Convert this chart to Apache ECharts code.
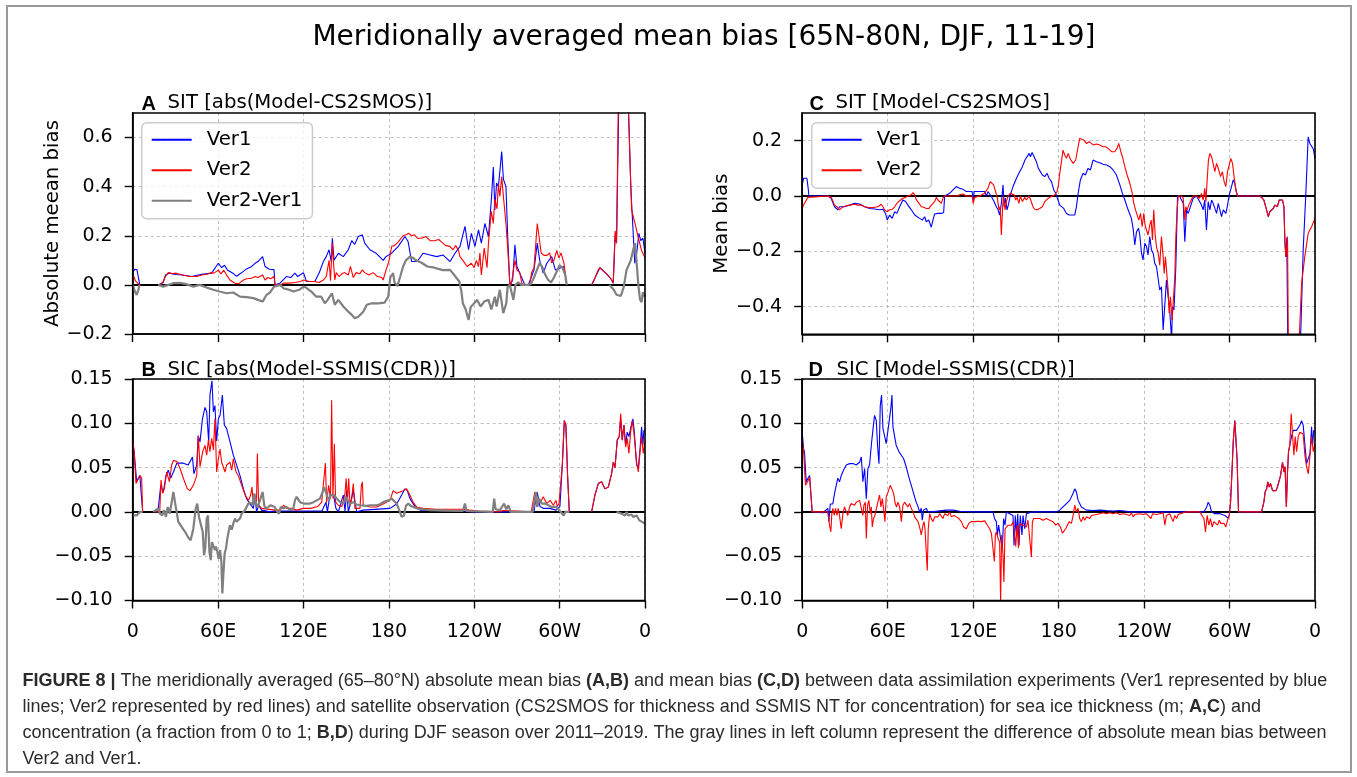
<!DOCTYPE html>
<html>
<head>
<meta charset="utf-8">
<title>Meridionally averaged mean bias</title>
<script src="https://cdn.jsdelivr.net/npm/echarts@6.0.0/dist/echarts.min.js"></script>
<style>
  html, body { margin: 0; padding: 0; background: #fff; }
  #chart { width: 1357px; height: 777px; }
</style>
</head>
<body>
<div id="chart"></div>
<script>
// axis ticks
const X_TICKS = [0, 60, 120, 180, 240, 300, 360];
const X_TICK_LABELS = ['0', '60E', '120E', '180', '120W', '60W', '0'];
const Y_TICKS_A = [-0.2, 0, 0.2, 0.4, 0.6];
const Y_TICKS_B = [-0.1, -0.05, 0, 0.05, 0.1, 0.15];
const Y_TICKS_C = [-0.4, -0.2, 0, 0.2];
const Y_TICKS_D = [-0.1, -0.05, 0, 0.05, 0.1, 0.15];

// [longitude (0-360, east), value]; null = no data
// A: SIT abs(Model-CS2SMOS)
const A_VER1 = [[0,0.05],[1.5,0.064],[3,0.062],[4,0.03],[5,0],[6,null],
  [18,0],[21.5,0.01],[23,0.04],[26,0.048],[30,0.042],[35,0.04],[41.5,0.034],[48.5,0.043],[55.5,0.048],[58,0.07],[60.2,0.088],[62.5,0.07],[64.5,0.08],[66.5,0.061],[71,0.045],[73,0.035],[77.8,0.055],[80,0.065],[83.6,0.075],[86,0.088],[88,0.095],[91.3,0.115],[93,0.075],[96,0.064],[99.3,0.062],[100,0],
  [103.5,0.007],[108,0.034],[111,0.03],[114,0.048],[116,0.034],[120,0.05],[122,0.014],[128,0.014],[131,0.048],[134,0.095],[136,0.115],[138,0.143],[139.5,0.095],[140.3,0.19],[141.5,0.1],[144.5,0.129],[148,0.115],[151.5,0.143],[153.9,0.18],[156,0.165],[158.5,0.197],[161.4,0.204],[163,0.17],[166.7,0.143],[171,0.129],[176,0.1],[178,0.115],[182,0.129],[186.6,0.157],[191.3,0.197],[193.5,0.177],[196,0.095],[200,0.095],[204,0.129],[209,0.122],[213.6,0.115],[218,0.122],[223,0.095],[226.5,0.129],[230,0.157],[233.5,0.238],[236,0.143],[238,0.21],[240.5,0.157],[243,0.224],[245,0.17],[247.5,0.25],[250,0.197],[252.2,0.36],[253.4,0.48],[254.5,0.305],[255.7,0.415],[257,0.4],[259.3,0.543],[260.5,0.43],[262.3,0.4],[263.5,0.2],[265,0],[267,0.02],[268.6,0.163],[270,0.075],[273,0.034],[275.6,0],[278,0],[280.3,0.034],[282,0.061],[284.3,0.17],[286,0.1],[288.5,0.048],[291,0.088],[294.4,0.115],[297,0.061],[300,0.068],[303,0.075],[305,0],[306,null],
  [322.5,0],[325,0.03],[328.3,0.07],[333,0.045],[336,0.025],[337.7,0.007],[339,0.2],[340,0.17],[342,0.9],[347.5,0.9],[350,0.4],[352.8,0.088],[354,0.12],[355.7,0.21],[357,0.18],[358.5,0.19],[360,0.13]];
const A_VER2 = [[0,0.04],[1,0.03],[2,0.015],[4,0.005],[5,0],[6,null],
  [18,0],[20,0.005],[21.5,0.014],[23,0.034],[25,0.05],[28,0.045],[30,0.048],[35,0.04],[40,0.034],[45,0.034],[48.5,0.04],[52,0.043],[55.5,0.05],[57,0.048],[60.2,0.06],[62,0.045],[64,0.06],[66,0.04],[68.4,0.02],[71,0.01],[73,0.005],[75,0.007],[77.8,0.02],[80,0.025],[83.6,0.027],[86,0.034],[88,0.03],[91.3,0.04],[93,0.02],[95,0.03],[97,0.025],[99.3,0.034],[100,0],
  [103.5,0],[106,0.007],[110,0.007],[114,0.01],[118,0.014],[120,0.02],[124,0.014],[128,0.014],[131,0.01],[134,0.02],[136,0.034],[138,0.1],[139,0.017],[140.3,0.17],[141,0.1],[142,0.02],[143,0.05],[145,0.034],[147,0.045],[149,0.05],[151.5,0.04],[153,0.075],[155,0.03],[157,0.05],[159.5,0.045],[161.4,0.061],[163,0.05],[166,0.04],[169,0.05],[172,0.034],[175,0.03],[176,0.02],[178,0.06],[180,0.095],[182,0.157],[184,0.16],[186.6,0.175],[188,0.18],[190,0.2],[192,0.204],[194,0.21],[196,0.2],[198,0.204],[200,0.19],[203,0.19],[206,0.197],[209,0.18],[212,0.18],[215,0.185],[218,0.17],[220,0.16],[223,0.157],[225,0.143],[227,0.16],[229,0.14],[230,0.115],[232,0.1],[235,0.075],[238,0.088],[240,0.07],[241.5,0.1],[243,0.075],[244,0.13],[245,0.04],[247,0.15],[249,0.07],[250,0.17],[252,0.3],[253.4,0.25],[254.5,0.35],[256,0.31],[257,0.41],[258,0.36],[259.3,0.44],[260.5,0.36],[262.3,0.25],[263.5,0.15],[265,0.01],[266,0],[268.6,0.1],[270,0.06],[272,0.05],[273.5,0.005],[276,0],[279,0],[280.3,0.05],[282,0.07],[284.3,0.25],[285.5,0.2],[287,0.13],[289,0.12],[291,0.12],[293,0.13],[294.4,0.09],[296,0.1],[298,0.14],[299.5,0.11],[301,0.13],[303,0.09],[305,0],[306,null],
  [322.5,0],[325,0.03],[327,0.06],[328.3,0.07],[330,0.06],[333,0.045],[336,0.025],[337.7,0.01],[339,0.22],[340,0.17],[341.7,0.95],[347,0.95],[350.6,0.305],[353,0.25],[355,0.2],[357.6,0.14],[360,0.11]];
const A_DIFF = [[0,0],[1.6,-0.027],[2.8,-0.041],[4,-0.02],[4.7,0],[6,null],
  [18,0],[21.5,-0.007],[24,-0.002],[28.6,0.007],[33,0.008],[37,0.004],[42.6,-0.007],[47,0],[52,-0.011],[56.7,-0.02],[61,-0.027],[66,-0.034],[70.7,-0.031],[75.4,-0.048],[80,-0.05],[84.8,-0.054],[88,-0.061],[91.3,-0.068],[94,-0.041],[96.5,-0.031],[99.3,-0.007],[100,0],
  [103.5,0],[106,-0.014],[110,-0.02],[113,-0.027],[117,-0.02],[120,-0.007],[122,-0.012],[125.5,-0.027],[129,-0.048],[132.5,-0.048],[135,-0.075],[137,-0.061],[140,-0.034],[142,-0.081],[144.5,-0.061],[148,-0.088],[151.5,-0.109],[154,-0.122],[156,-0.136],[158.5,-0.13],[162,-0.109],[164.5,-0.081],[168,-0.075],[172.6,-0.075],[177,-0.072],[179.6,-0.048],[181,0.03],[183,0.048],[184,0.01],[186,-0.005],[188,0.034],[190,0.075],[192,0.1],[194.8,0.115],[197,0.11],[199,0.1],[203,0.09],[207,0.075],[212,0.07],[218,0.06],[223,0.061],[226,0.04],[229.5,0.014],[231,-0.027],[232,-0.075],[234,-0.1],[236,-0.143],[237.5,-0.09],[240,-0.075],[242,-0.061],[244.5,-0.088],[247,-0.068],[250,-0.061],[252,-0.1],[254.5,-0.048],[255.7,-0.088],[258,-0.02],[260.4,-0.115],[262.5,-0.075],[263.5,-0.007],[265,0],[266,0],[267.5,-0.061],[269,0],[271,0.01],[273,0],[278,0],[280,0.005],[282,0.03],[284,0.06],[286,0.09],[288,0.07],[290,0.04],[292,0.02],[294,0.01],[296,0.03],[298,0.055],[300,0.08],[302,0.07],[304,0.04],[305,0],[306,null],
  [335,0],[338,-0.02],[340,-0.04],[343,-0.045],[345,-0.01],[347,0.06],[350,0.1],[352,0.15],[353,0.17],[354,0.1],[355.3,0],[356.5,-0.06],[357.6,-0.07],[358.5,-0.03],[360,-0.05]];

// B: SIC abs(Model-SSMIS(CDR))
const B_VER1 = [[0,0.08],[1,0.068],[2.8,0.034],[5,0.041],[6.3,0.043],[7,0],[8,null],
  [16,0],[18,0.004],[19.7,0.03],[21.5,0.022],[23.4,0.041],[25,0.047],[26.7,0.038],[28.6,0.045],[31,0.055],[35.6,0.055],[39,0.053],[42,0.062],[43,0.043],[45,0.053],[46,0.086],[47.3,0.079],[49,0.105],[50.8,0.118],[52,0.113],[53.4,0.079],[54.3,0.132],[55.7,0.148],[56.7,0.113],[57.8,0.12],[59,0.08],[60.2,0.105],[61.4,0.109],[63,0.132],[64.4,0.098],[66,0.094],[68.4,0.079],[70.7,0.064],[73,0.053],[75.4,0.041],[77.8,0.026],[80,0.015],[82.4,0.009],[84.8,0.004],[86,0.019],[87,0],[88.5,0.0075],[90.6,0.002],[96.5,0],[100,0.001],[120,0.001],[133,0.001],[135.8,0.011],[136.8,0],[138.6,0.019],[141,0.02],[142.8,0.004],[144.5,0],[148,0.019],[149.2,0.001],[150.4,0.024],[151.5,0],[152.7,0.0075],[155,0.024],[157.4,0],[162,0.002],[180.8,0.004],[185.5,0.009],[189,0.019],[191.3,0.026],[193,0.024],[194.8,0.015],[198.4,0.006],[202,0.002],[232,0.001],[240,0],[282,0],[282.6,0.0075],[284.3,0.022],[286.2,0.006],[288.5,0.004],[293,0.004],[297.5,0.002],[300.2,0.006],[301.9,0.053],[303.3,0.103],[304.4,0.098],[305.6,0.041],[306.8,0],[308,null],
  [322.5,0],[324.8,0.019],[327.2,0.032],[329.5,0.034],[331.9,0.026],[334.2,0.028],[335.4,0.026],[336.5,0.043],[337.7,0.056],[338.9,0.05],[340.5,0.081],[341.9,0.085],[342.9,0.105],[344,0.081],[345.2,0.098],[346.4,0.075],[347.5,0.09],[348.7,0.085],[350,0.095],[351.5,0.105],[352.5,0.09],[354.1,0.053],[355.3,0.05],[356.5,0.07],[357.6,0.096],[358.5,0.075],[359.2,0.092],[360,0.09]];
const B_VER2 = [[0,0.081],[1,0.068],[2.3,0.032],[4,0.038],[5.2,0.041],[6.3,0.038],[7,0],[8,null],
  [16,0],[19,0],[19.9,0.036],[21,0.021],[22.2,0.026],[23.9,0.045],[25.8,0.034],[27.4,0.053],[28.6,0.058],[31,0.057],[33.3,0.049],[35.6,0.038],[38.4,0.026],[40.3,0.024],[42.6,0.03],[45,0.041],[46.1,0.086],[47.3,0.051],[49.2,0.068],[50.8,0.075],[52,0.064],[53.2,0.081],[54.3,0.068],[55.5,0.083],[56.7,0.07],[57.8,0.105],[59,0.045],[60.2,0.06],[61.4,0.071],[62.5,0.056],[64.9,0.045],[66,0.053],[68.4,0.056],[69.6,0.047],[70.7,0.06],[72.6,0.045],[74.2,0.041],[76.6,0.03],[79,0.019],[81.3,0.013],[82.9,0.019],[83.8,0.028],[84.8,0.009],[86,0.015],[87,0.011],[87.6,0.066],[88.5,0.0075],[90.6,0.004],[100,0.002],[103.5,0.002],[104.7,0.004],[106,0.0075],[108.2,0.004],[111.7,0.004],[115,0.002],[120,0.004],[125,0.004],[130,0.006],[132.8,0.011],[134.4,0.038],[135.4,0.055],[136.3,0.011],[137.7,0.03],[139,0.015],[139.8,0.126],[140.7,0.015],[141.7,0.077],[142.6,0.011],[144.5,0.0075],[147,0.006],[149.2,0.021],[150,0.038],[150.9,0.011],[151.8,0.038],[152.7,0.0075],[153.9,0.015],[155,0.032],[156.2,0.004],[159.7,0.004],[160.7,0.03],[161.4,0.034],[162,0.0075],[166.7,0.0056],[171.4,0.0056],[176,0.009],[180.8,0.013],[183,0.024],[185.5,0.021],[187.8,0.0225],[190,0.024],[192.5,0.026],[194.8,0.019],[197,0.011],[199.5,0.0056],[204,0.004],[213.6,0.003],[232,0.003],[236.7,0.002],[243,0.001],[257,0],[260,0.0015],[270,0.001],[280,0],[282.6,0.0225],[283.8,0.006],[285,0.015],[286.6,0.011],[288.5,0.017],[290.9,0.0094],[293.3,0.013],[295.6,0.0075],[297.4,0.013],[298.4,0.006],[299.5,0.009],[300.7,0.011],[301.9,0.053],[303.3,0.103],[304.4,0.098],[305.6,0.041],[306.8,0],[308,null],
  [322.5,0],[324.8,0.019],[327.2,0.032],[329.5,0.034],[331.9,0.026],[334.2,0.028],[335.4,0.026],[336.5,0.043],[337.7,0.056],[338.9,0.05],[340.5,0.081],[341.9,0.085],[342.9,0.111],[344,0.081],[345.2,0.098],[346.4,0.073],[347.5,0.083],[348.7,0.066],[349.9,0.09],[351,0.103],[352.3,0.088],[354.1,0.056],[355.3,0.045],[356.5,0.068],[357.6,0.085],[358.8,0.066],[360,0.079]];
const B_DIFF = [[0,-0.004],[2.8,-0.004],[5,0],[7,0],[8,null],
  [14.5,0],[18,0.004],[19.2,-0.002],[20.8,-0.004],[22,0.002],[23.4,-0.0056],[24.6,0.0056],[26,-0.002],[27.4,0.011],[28.6,0.0226],[29.7,0.011],[30.9,0],[32,-0.011],[34.4,-0.017],[36.8,-0.0225],[39,-0.029],[40.7,-0.032],[42.6,-0.019],[44.3,0.004],[45.4,0.0094],[46.6,-0.006],[47.8,-0.004],[49.2,-0.0225],[50.1,-0.049],[51,-0.041],[52,-0.0075],[52.9,-0.004],[53.9,-0.045],[54.8,-0.0545],[55.7,-0.034],[56.7,-0.036],[57.8,-0.043],[58.5,-0.039],[59.5,-0.045],[60.4,-0.053],[61.4,-0.043],[62.3,-0.056],[63,-0.092],[63.7,-0.071],[64.6,-0.047],[65.6,-0.041],[66.5,-0.03],[67.4,-0.0225],[68.4,-0.015],[69.6,-0.02],[70.7,-0.013],[71.9,-0.0075],[73,-0.011],[74.2,-0.009],[75.4,-0.0075],[76.6,-0.002],[77.8,-0.004],[79,0.002],[80,0.0056],[81.3,0.0094],[82.9,0.0105],[84.3,0.0075],[85.5,0.021],[86.6,0.0094],[87.8,0.0056],[89,0.011],[90.2,0.017],[91.3,0.0225],[92.5,0.0068],[93.7,0.004],[95.3,0.0056],[97,0.0075],[98.4,0.0094],[99.8,0.0056],[101.2,0.001],[102.8,-0.002],[104,0.0056],[105.9,0.004],[108.2,0.0056],[110.5,0.002],[112.9,0.004],[114,0.013],[115.2,0.017],[117.6,0.011],[120,0.0094],[124.6,0.0094],[127,0.011],[129.3,0.013],[131.6,0.015],[133.5,0.0225],[134.4,0.028],[135.8,0.0225],[136.8,0.017],[137.9,0.013],[139,0.019],[140.3,0.0206],[141.5,0.019],[142.9,0.017],[144.5,0.013],[146.4,0.0105],[148,0.0094],[150,0.017],[151.1,0.013],[152.7,0.0094],[155,0.011],[157.4,0.0083],[159.7,0.0075],[164.4,0.0068],[166.7,0.0075],[171.4,0.0075],[173.7,0.0086],[176,0.011],[177.3,0.0094],[179.6,0.013],[180.8,0.011],[182,0.015],[183.1,0.013],[185.5,0.0094],[187.3,0.002],[189,-0.0056],[190.6,-0.004],[192,0.0068],[193.7,0.0094],[195.3,0.0068],[197.2,0.0056],[199.5,0.004],[204,0.003],[208.9,0.002],[220,0.0015],[232,0.001],[233.5,0.0094],[234.5,0.001],[253,0],[254,0.015],[255,0.003],[258,0.002],[261,0.0094],[262.5,0.003],[264,0.0075],[265.5,0],[281,0],[282.6,0.015],[283.4,0.0225],[284.3,0.0056],[285.7,0.015],[287.4,0.0094],[289.7,0.0094],[292.1,0.0075],[294.4,0.0056],[297.9,0.0056],[300.2,0.001],[302.9,-0.004],[304,0],[306.8,0],[308,null],
  [340,0],[343.6,-0.002],[346,-0.004],[347.1,0],[348.2,-0.004],[350.6,-0.003],[351.7,-0.0056],[352.9,-0.0075],[354.1,-0.004],[356,-0.0094],[357.6,-0.011],[358.8,-0.013],[360,-0.013]];

// C: SIT Model-CS2SMOS
const C_VER1 = [[0,0.04],[1,0.064],[2.4,0.07],[3.3,0.064],[4.2,0.028],[4.7,0],
  [18,0],[20.3,-0.008],[21.5,-0.0145],[22.7,-0.039],[23.9,-0.033],[25,-0.05],[26.2,-0.039],[27.4,-0.045],[29.7,-0.039],[33.3,-0.033],[36.8,-0.0265],[40.3,-0.029],[43.8,-0.039],[47.3,-0.045],[50.8,-0.047],[54.3,-0.05],[56.7,-0.048],[58.5,-0.063],[59.7,-0.087],[61.4,-0.069],[63.2,-0.081],[64.9,-0.057],[66.5,-0.063],[68.4,-0.039],[70.7,-0.0145],[72.6,-0.02],[74.2,-0.033],[76.6,-0.05],[79,-0.069],[82.4,-0.081],[84.3,-0.087],[86,-0.075],[87.1,-0.093],[88.8,-0.087],[90.6,-0.113],[91.8,-0.087],[93,-0.065],[95.3,-0.063],[97.7,-0.063],[99.3,-0.06],[100,0],[103.5,0.0096],[105.9,0.022],[108.2,0.034],[110.5,0.028],[112.9,0.024],[115.2,0.016],[117.6,0.016],[119.3,0.016],[120,-0.0145],[120.7,0.016],[124.6,0.016],[128,0.016],[129.3,0],[130.4,0.016],[132.8,-0.002],[134.7,-0.02],[136.3,-0.039],[137.5,-0.05],[138.6,-0.069],[139.8,-0.027],[141,0.04],[141.7,-0.039],[142.6,-0.008],[143.8,-0.05],[145,-0.027],[146.1,0.004],[148,0.034],[149.9,0.058],[151.5,0.076],[152.7,0.088],[154.6,0.106],[156.4,0.13],[157.8,0.136],[159.3,0.154],[160.2,0.142],[161.4,0.157],[162.8,0.142],[164.4,0.124],[165.8,0.1],[167.2,0.088],[168.6,0.076],[170.3,0.07],[171.9,0.082],[173.3,0.064],[175,0.052],[176.6,0.022],[178,0.0096],[179.6,-0.0145],[180.8,-0.033],[182,-0.039],[183.6,-0.045],[185.5,-0.063],[187.4,-0.069],[189,-0.069],[191.3,-0.069],[192.5,-0.039],[193.7,0.0096],[195.3,0.058],[197.2,0.082],[198.8,0.076],[200.7,0.1],[202.3,0.094],[204.2,0.13],[206.6,0.124],[208.9,0.12],[211.2,0.115],[213.6,0.112],[216,0.106],[218.3,0.094],[220.6,0.076],[223,0.04],[224.8,0.0096],[226.5,-0.0145],[228.8,-0.05],[231.1,-0.081],[232.3,-0.117],[233.5,-0.177],[234.7,-0.129],[236.1,-0.117],[237,-0.141],[238.2,-0.207],[239.3,-0.231],[240.5,-0.171],[241.7,-0.183],[242.8,-0.213],[244,-0.147],[245.2,-0.195],[246.4,-0.207],[247.5,-0.243],[248.7,-0.255],[249.9,-0.255],[251,-0.34],[252.2,-0.328],[253.4,-0.484],[254.5,-0.4],[255.7,-0.304],[256.9,-0.364],[258,-0.412],[259.3,-0.52],[260,-0.4],[261,-0.412],[262.3,-0.255],[263.5,0],[265,-0.002],[267.5,-0.0265],[268.6,-0.165],[269.8,-0.05],[271,-0.063],[273.3,-0.0265],[274.5,-0.008],[276.8,0],[279,-0.02],[280.3,-0.033],[281.5,-0.05],[282.6,-0.0145],[283.8,-0.123],[285,-0.0205],[286.2,-0.05],[287.4,-0.0145],[288.5,-0.0265],[289.7,-0.045],[290.9,-0.063],[292.1,-0.0265],[293.2,-0.033],[294.4,-0.075],[295.6,-0.05],[297.4,-0.063],[298.4,-0.039],[299.8,0.004],[301.4,0.034],[302.6,0.058],[303.7,0.046],[305,0.0096],[305.7,0],
  [321,0],[322.5,-0.005],[324.1,-0.0145],[326,-0.05],[327.2,-0.075],[328.3,-0.057],[329.5,-0.063],[330.7,-0.045],[331.9,-0.033],[333.5,-0.039],[334.9,-0.0145],[336.1,-0.01],[337.2,-0.0145],[338.2,-0.039],[338.9,-0.171],[339.6,-0.22],[340.2,-0.15],[341,-0.6],[349.4,-0.6],[351.7,-0.195],[353.5,0],[355.2,0.214],[356.4,0.19],[357.6,0.196],[358.8,0.17],[360,0.136]];
const C_VER2 = [[0,-0.045],[1,-0.033],[2.3,-0.02],[4,-0.005],[4.7,0],
  [18,0],[19.2,0.007],[20.3,-0.005],[21.5,-0.017],[22.7,-0.033],[24.4,-0.039],[26.2,-0.05],[28.1,-0.041],[30.9,-0.035],[33.3,-0.033],[36.8,-0.03],[39,-0.033],[41.5,-0.033],[43.8,-0.039],[46.1,-0.041],[48.5,-0.042],[50.8,-0.041],[53.2,-0.039],[55.5,-0.03],[56.7,-0.039],[57.8,-0.05],[59.5,-0.057],[61.4,-0.05],[63.2,-0.048],[64.9,-0.039],[66.5,-0.0265],[68.4,-0.017],[70.7,-0.008],[72.6,-0.005],[74.2,0],[76.6,0.004],[77.8,0.012],[79,0.004],[80,-0.012],[82,-0.0265],[83.6,-0.039],[85.3,-0.041],[87.1,-0.045],[89,-0.045],[90.6,-0.033],[91.8,-0.039],[93,-0.02],[94.2,-0.005],[95.3,-0.0145],[96.5,-0.008],[97.7,-0.0265],[98.8,-0.008],[100,0],[108.2,0],[110.5,0.004],[112.9,0.007],[115.2,0],[119.3,0],[120,-0.0265],[121.1,-0.005],[124.6,0],[128,0.0096],[130.4,0.028],[132,0.052],[133.3,0.058],[134.4,0.04],[135.8,0.016],[137,-0.008],[138.2,-0.05],[139,-0.039],[139.8,-0.141],[140.7,-0.039],[141.4,-0.002],[142.4,-0.05],[143.3,-0.0205],[144.5,0],[146.1,0.0096],[147.5,0.016],[148.7,0.004],[149.9,-0.0145],[150.8,-0.005],[152.2,-0.0265],[153.1,0],[154.6,-0.02],[156.2,-0.005],[157.4,-0.0145],[159.3,0],[160.4,-0.0145],[162,-0.039],[163.2,-0.048],[164.9,-0.05],[166.7,-0.045],[168.6,-0.039],[170.3,-0.02],[171.9,-0.012],[173.8,-0.005],[175.6,0],[177.3,0.004],[178.9,0.016],[179.9,0.04],[180.8,0.082],[182,0.124],[183.1,0.166],[184.3,0.148],[185.5,0.136],[186.7,0.154],[188.3,0.133],[190.2,0.118],[192,0.13],[193.7,0.178],[194.8,0.208],[196,0.214],[197.7,0.202],[199.5,0.19],[201.4,0.196],[203,0.19],[204.7,0.184],[206.6,0.188],[208.9,0.184],[211.2,0.178],[213,0.178],[214.8,0.172],[217.1,0.16],[219.4,0.16],[221,0.172],[222.2,0.19],[223.7,0.16],[224.8,0.142],[226.5,0.106],[228.1,0.076],[230,0.046],[231.6,0.012],[232.8,-0.0265],[234,-0.05],[235.2,-0.057],[236.3,-0.087],[237.5,-0.063],[238.7,-0.111],[239.8,-0.063],[240.7,-0.105],[241.7,-0.123],[242.8,-0.141],[244,-0.105],[245,-0.087],[245.9,-0.159],[246.8,-0.05],[247.8,-0.141],[248.7,-0.183],[249.9,-0.207],[251,-0.25],[252.2,-0.147],[253.4,-0.22],[254.1,-0.28],[255,-0.22],[255.7,-0.225],[256.9,-0.34],[257.6,-0.424],[258.5,-0.364],[259.7,-0.448],[260.7,-0.364],[261.6,-0.29],[262.3,-0.147],[263.2,-0.05],[264,0],[265.2,-0.005],[266.3,0],[267.5,-0.008],[268.6,-0.087],[269.3,-0.039],[270.2,-0.05],[271.4,-0.033],[272.6,-0.02],[274.5,0],[276.8,0],[279,-0.008],[280.3,0.0096],[281.5,-0.0145],[282.6,0.028],[283.4,-0.0205],[284.3,0.058],[285.2,0.13],[286.2,0.154],[287.4,0.142],[288.5,0.136],[289.7,0.088],[290.9,0.118],[292.1,0.1],[293.7,0.07],[295,0.088],[296.2,0.052],[297.4,0.034],[298.6,0.088],[299.8,0.112],[300.9,0.136],[302.1,0.118],[303.3,0.064],[304.4,0.022],[305.7,0],
  [321,0],[322.5,-0.005],[324.1,-0.0145],[326,-0.05],[327.2,-0.075],[328.3,-0.057],[329.5,-0.063],[330.7,-0.045],[331.9,-0.033],[333.5,-0.039],[334.9,-0.0145],[336.1,-0.01],[337.2,-0.0145],[338.2,-0.039],[338.9,-0.171],[339.6,-0.22],[340.7,-0.147],[341.4,-0.6],[348.2,-0.6],[350.6,-0.316],[352.8,-0.22],[355.2,-0.135],[357.6,-0.111],[360,-0.081]];

// D: SIC Model-SSMIS(CDR)
const D_VER1 = [[0,0.09],[1,0.071],[1.6,0.068],[2.8,0.034],[4,0.038],[5.2,0.041],[6.3,0.042],[7,0],
  [14.5,-0.001],[18,0.004],[18.7,-0.011],[19.7,0.009],[20.6,0.011],[21.5,0.009],[22.7,0.021],[23.9,0.03],[25,0.038],[26.2,0.034],[27.4,0.041],[29,0.047],[30.9,0.053],[33.3,0.0545],[35.6,0.0545],[37.9,0.053],[40.3,0.056],[41.5,0.062],[42.6,0.034],[43.8,0.049],[45,0.015],[46.1,0.049],[47.3,0.053],[48.5,0.075],[49.6,0.092],[50.8,0.109],[52,0.103],[52.9,0.075],[53.9,0.0545],[54.8,0.12],[55.7,0.132],[56.7,0.094],[57.8,0.096],[59,0.077],[60.2,0.092],[61.4,0.094],[62.3,0.118],[63,0.132],[63.7,0.096],[64.9,0.094],[66,0.075],[67.9,0.068],[69.6,0.064],[71.2,0.06],[73,0.051],[74.9,0.039],[76.6,0.03],[78.2,0.021],[80,0.011],[81.3,0.006],[82.4,0],[83.6,0.004],[84.3,-0.0094],[85.2,0.002],[87.1,0.004],[88.3,0],[89.5,0.002],[90.6,0],[101.2,0.002],[102.3,0.003],[105.9,0.002],[110.5,0.0008],[120,0],[134,0],[135,-0.0075],[136.3,-0.011],[137,-0.026],[137.9,-0.015],[138.6,-0.0225],[139.6,-0.034],[140.5,-0.041],[141.4,-0.0075],[142.4,-0.015],[143.3,0],[148,-0.004],[148.7,-0.038],[149.6,-0.004],[150.4,-0.026],[151.3,-0.002],[152.2,-0.038],[153.1,-0.004],[154.3,-0.026],[155,-0.004],[156.2,-0.019],[157.4,-0.002],[159.7,-0.001],[162,0],[178.5,0],[180.8,0.002],[183.1,0.0056],[185.5,0.0094],[187.8,0.013],[190.2,0.021],[191.3,0.026],[192.5,0.0226],[193.7,0.013],[194.8,0.0094],[196,0.0056],[197.2,0.004],[199.5,0.002],[204.2,0.0015],[208.9,0.002],[213.6,0.0015],[218.3,0.0011],[223,0.0015],[227.7,0.0008],[230,0],[282,0],[283.1,0.002],[284,0.0056],[285,0.011],[286.2,0.0075],[287.4,0],[289.7,-0.002],[293.2,-0.002],[296.7,-0.004],[298.6,-0.0068],[299.8,-0.004],[300.7,0.011],[301.6,0.041],[302.6,0.079],[303.7,0.103],[304.4,0.102],[305.3,0.06],[306.3,0],
  [322.5,0],[324.1,0.011],[325,0.0226],[326,0.026],[326.9,0.034],[327.9,0.028],[328.8,0.032],[330.2,0.024],[331.4,0.026],[332.6,0.024],[333.7,0.028],[334.9,0.03],[335.8,0.041],[337.2,0.056],[338.2,0.045],[339,0.051],[339.9,0.0056],[340.7,0.045],[341.4,0.068],[342.3,0.075],[343.6,0.086],[344.8,0.092],[347.1,0.092],[349.4,0.098],[350.6,0.103],[351.7,0.098],[354.1,0.0545],[355.3,0.053],[356.5,0.066],[357.6,0.096],[358.3,0.075],[359.1,0.092],[360,0.09]];
const D_VER2 = [[0,0.083],[1,0.068],[2.3,0.03],[4,0.035],[5.2,0.039],[6.3,0.041],[7,0],
  [18,0],[19.2,-0.015],[20.1,-0.0225],[20.8,-0.002],[21.5,0.004],[22.5,-0.004],[23.4,0.004],[24.4,-0.004],[25.3,0.004],[26.2,-0.004],[27.4,-0.019],[28.6,-0.002],[29.7,0.0056],[30.9,0.004],[32,-0.004],[33.3,0.0056],[34.4,0.0094],[35.6,0.011],[36.8,0.0075],[37.9,0.011],[39,0.0094],[40.3,0.013],[41.5,0.015],[42.6,-0.004],[43.3,0.0075],[44.3,0.011],[45,-0.03],[45.9,0.0075],[46.8,0.013],[47.8,-0.002],[48.5,0.0056],[49.2,-0.017],[50.1,-0.0075],[51,-0.004],[52,-0.004],[53.4,0.013],[54.3,0.019],[55.3,0.0056],[56.2,0.015],[57.1,0.004],[58.1,-0.011],[59,0.017],[60,0.021],[60.9,0.019],[61.8,0.03],[62.5,0.032],[63.5,0.024],[64.4,0.019],[65.3,0.0094],[66.3,0.0056],[67.2,0.011],[68.4,0.0056],[69.6,-0.011],[70.7,0.0075],[71.9,0.011],[73,0.0094],[74.2,0.0056],[75.4,0.0094],[76.6,0.004],[77.8,0],[79,-0.0056],[80.1,-0.0075],[81.3,-0.011],[82.4,-0.017],[83.6,-0.026],[84.8,-0.015],[85.5,-0.011],[86.2,-0.019],[87.1,-0.019],[87.8,-0.066],[88.5,-0.019],[89.5,-0.002],[90.6,-0.0075],[91.8,-0.011],[93,-0.0056],[94.2,-0.004],[95.3,-0.0056],[96.5,-0.002],[97.7,-0.004],[98.8,-0.0075],[100,-0.002],[101.2,-0.002],[102.3,-0.004],[103.5,0],[104.7,-0.0056],[106.5,-0.004],[108.2,-0.0056],[110,-0.0075],[111.7,-0.011],[113.3,-0.017],[115.2,-0.019],[116.9,-0.013],[118.7,-0.011],[121.1,-0.011],[123.4,-0.0105],[125.8,-0.011],[128.1,-0.0101],[130,-0.015],[131.6,-0.019],[132.8,-0.024],[134,-0.026],[134.9,-0.056],[135.6,-0.026],[136.3,-0.0225],[137.5,-0.03],[138.6,-0.034],[139.3,-0.102],[140,-0.026],[141,-0.049],[141.6,-0.079],[142.4,-0.019],[143.3,-0.017],[144.5,-0.015],[145.6,-0.017],[146.8,-0.015],[148,-0.011],[149.2,-0.026],[149.9,-0.039],[150.9,-0.015],[151.8,-0.041],[152.7,-0.013],[153.9,-0.011],[155,-0.015],[156.2,-0.017],[157.4,-0.017],[158.5,-0.0094],[159.7,-0.011],[160.9,-0.051],[161.6,-0.011],[162.5,-0.0075],[166.7,-0.0075],[169,-0.0094],[171.4,-0.0075],[173.8,-0.0094],[176.1,-0.011],[178,-0.015],[179.6,-0.013],[181.3,-0.017],[182.7,-0.024],[183.8,-0.0225],[185,-0.019],[186.2,-0.0205],[187.4,-0.011],[189,-0.013],[190.2,-0.004],[191.3,0.0075],[192.5,0],[193.7,0.004],[194.8,-0.0075],[196,-0.011],[197.2,-0.0056],[198.4,-0.0094],[199.5,-0.0056],[200.7,-0.004],[201.9,-0.0075],[203,-0.004],[204.2,-0.002],[206.6,-0.003],[208.9,-0.002],[211.2,-0.001],[213.6,-0.002],[216,-0.001],[218.3,-0.002],[220.6,-0.001],[223,-0.003],[225.4,-0.002],[227.7,-0.003],[230,-0.004],[231.1,-0.001],[232.3,-0.0056],[233.5,-0.003],[234.7,-0.004],[237,-0.002],[239.3,-0.003],[241.7,-0.002],[244.8,-0.0075],[246,-0.002],[248.5,-0.003],[251,-0.002],[253.4,-0.001],[254.6,-0.015],[255.7,-0.004],[258,-0.002],[260.4,-0.011],[261.6,-0.004],[262.8,-0.0075],[264,-0.003],[265,-0.002],[267.5,-0.001],[270,0],[279.2,0],[280.3,-0.001],[282,-0.0075],[283.1,-0.0225],[284.3,-0.004],[285.5,-0.015],[286.6,-0.0075],[287.8,-0.017],[289,-0.011],[290.4,-0.011],[291.6,-0.015],[292.8,-0.0094],[293.9,-0.013],[295,-0.011],[296.2,-0.013],[297.4,-0.017],[298.6,-0.0094],[299.8,-0.004],[300.7,0.011],[301.6,0.041],[302.6,0.079],[303.7,0.103],[304.4,0.102],[305.3,0.06],[306.3,0],
  [322.5,0],[323.3,0.002],[324.1,0.011],[325,0.0226],[326,0.026],[326.9,0.034],[327.9,0.028],[328.8,0.032],[330.2,0.024],[331.2,0.026],[332.6,0.024],[333.5,0.028],[334.9,0.03],[335.8,0.041],[337.2,0.056],[338.2,0.045],[339,0.051],[339.9,0.0056],[340.7,0.045],[341.4,0.068],[342.3,0.075],[343.3,0.111],[344.3,0.085],[345.2,0.064],[346.1,0.085],[347.1,0.068],[348.2,0.085],[349.4,0.09],[350.6,0.092],[351.7,0.088],[352.9,0.064],[354.1,0.051],[355.3,0.043],[356.5,0.064],[357.6,0.085],[358.8,0.068],[360,0.077]];

const FONT = 'DejaVu Sans';
const BLUE = '#0000ff', RED = '#ff0000', GRAY = '#808080';

function fmt(v, digits) {
  return (v < 0 ? '\u2212' : '') + Math.abs(v).toFixed(digits);
}

// frame drawn above the data like matplotlib spines
function gridBox(left, top, width, height) {
  return { left, top, width, height, show: true, z: 10, borderColor: '#000', borderWidth: 1.6,
    backgroundColor: 'transparent', containLabel: false, outerBoundsMode: 'none' };
}

function xAxis(idx, showLabels) {
  return {
    type: 'value', gridIndex: idx, min: 0, max: 360,
    axisLine: { show: true, onZero: false, lineStyle: { color: '#000', width: 1.6 } },
    axisTick: { show: true, length: 8, customValues: X_TICKS, lineStyle: { color: '#000', width: 1.4 } },
    axisLabel: { show: showLabels, customValues: X_TICKS, margin: 22, fontFamily: FONT, fontSize: 19, color: '#000',
      formatter: v => X_TICK_LABELS[Math.round(v / 60)] },
    splitLine: { show: true, lineStyle: { color: '#b0b0b0', width: 0.8, type: [3, 3] } }
  };
}

function yAxis(idx, min, max, ticks, digits, name) {
  return {
    type: 'value', gridIndex: idx, min, max,
    name, nameLocation: 'middle', nameGap: 70,
    nameTextStyle: { fontFamily: FONT, fontSize: 19.7, color: '#000' },
    axisLine: { show: true, onZero: false, lineStyle: { color: '#000', width: 1.6 } },
    axisTick: { show: true, length: 8, customValues: ticks, lineStyle: { color: '#000', width: 1.4 } },
    axisLabel: { customValues: ticks, margin: 20, fontFamily: FONT, fontSize: 19, color: '#000',
      formatter: v => fmt(v, digits) },
    splitLine: { show: true, lineStyle: { color: '#b0b0b0', width: 0.8, type: [3, 3] } }
  };
}

function line(name, data, idx, color, width) {
  return {
    type: 'line', name, data, xAxisIndex: idx, yAxisIndex: idx,
    showSymbol: false, symbol: 'none', connectNulls: false, clip: true,
    silent: true, animation: false,
    lineStyle: { color, width }, itemStyle: { color }
  };
}

// black horizontal line at zero
function zeroLine(idx) {
  return {
    type: 'line', data: [], xAxisIndex: idx, yAxisIndex: idx, silent: true, z: 1,
    markLine: { silent: true, z: 1, animation: false, symbol: ['none', 'none'], label: { show: false },
      lineStyle: { color: '#000', width: 1.8, type: 'solid' }, emphasis: { disabled: true },
      data: [{ yAxis: 0 }] }
  };
}

function legendBox(left, names) {
  return {
    left, top: 122.7, orient: 'vertical', data: names, selectedMode: false,
    itemWidth: 40, itemHeight: 14, itemGap: 10.5, padding: [7, 10, 8, 9],
    itemStyle: { opacity: 0 },
    backgroundColor: 'rgba(255,255,255,0.8)', borderColor: '#cccccc', borderWidth: 1.5, borderRadius: 5,
    textStyle: { fontFamily: FONT, fontSize: 19.8, color: '#000', padding: [0, 0, 0, 10] }
  };
}

function txt(x, y, text, font, align, color) {
  return { type: 'text', x, y, silent: true, style: { text, font, fill: color || '#000',
    align: align || 'left', textAlign: align || 'left', verticalAlign: 'middle', textVerticalAlign: 'middle' } };
}

const CAP_FONT = '18px "Liberation Sans"';
const CAP_BOLD = { font: 'bold 18px "Liberation Sans"', fill: '#2b2b2b' };
function capLine(y, text) {
  return { type: 'text', x: 22.5, y, silent: true, style: { text, font: CAP_FONT, fill: '#2b2b2b',
    align: 'left', verticalAlign: 'middle', textVerticalAlign: 'middle', rich: { b: CAP_BOLD } } };
}

const chart = echarts.init(document.getElementById('chart'), null, { renderer: 'canvas' });
chart.setOption({
  animation: false,
  backgroundColor: '#fff',
  grid: [
    gridBox(132.7, 113, 512.3, 221),
    gridBox(132.7, 379, 512.3, 221.5),
    gridBox(802.2, 113, 512.8, 221.3),
    gridBox(802.2, 379, 512.8, 221.5)
  ],
  xAxis: [xAxis(0, false), xAxis(1, true), xAxis(2, false), xAxis(3, true)],
  yAxis: [
    yAxis(0, -0.2, 0.7, Y_TICKS_A, 1, 'Absolute meean bias'),
    yAxis(1, -0.1, 0.15, Y_TICKS_B, 2, ''),
    yAxis(2, -0.5, 0.3, Y_TICKS_C, 1, 'Mean bias'),
    yAxis(3, -0.1, 0.15, Y_TICKS_D, 2, '')
  ],
  legend: [
    legendBox(141.7, ['Ver1', 'Ver2', 'Ver2-Ver1']),
    legendBox(811.7, ['Ver1', 'Ver2'])
  ],
  series: [
    zeroLine(0), zeroLine(1), zeroLine(2), zeroLine(3),
    line('Ver1', A_VER1, 0, BLUE, 1.1),
    line('Ver2', A_VER2, 0, RED, 1.1),
    line('Ver2-Ver1', A_DIFF, 0, GRAY, 2.2),
    line('Ver1', B_VER1, 1, BLUE, 1.1),
    line('Ver2', B_VER2, 1, RED, 1.1),
    line('Ver2-Ver1', B_DIFF, 1, GRAY, 2.2),
    line('Ver1', C_VER1, 2, BLUE, 1.1),
    line('Ver2', C_VER2, 2, RED, 1.1),
    line('Ver1', D_VER1, 3, BLUE, 1.1),
    line('Ver2', D_VER2, 3, RED, 1.1)
  ],
  graphic: [
    { type: 'rect', silent: true, shape: { x: 7, y: 6, width: 1344, height: 766 },
      style: { fill: 'none', stroke: '#9a9a9a', lineWidth: 2 } },
    txt(704, 38, 'Meridionally averaged mean bias [65N-80N, DJF, 11-19]', '28px "DejaVu Sans"', 'center'),
    txt(141.5, 104, 'A', 'bold 20px "Liberation Sans"'),
    txt(167.6, 103, 'SIT [abs(Model-CS2SMOS)]', '19.7px "DejaVu Sans"'),
    txt(141.5, 370, 'B', 'bold 20px "Liberation Sans"'),
    txt(167.6, 369.5, 'SIC [abs(Model-SSMIS(CDR))]', '19.7px "DejaVu Sans"'),
    txt(809.5, 104, 'C', 'bold 20px "Liberation Sans"'),
    txt(835.5, 103, 'SIT [Model-CS2SMOS]', '19.7px "DejaVu Sans"'),
    txt(808.5, 370, 'D', 'bold 20px "Liberation Sans"'),
    txt(836.5, 369.5, 'SIC [Model-SSMIS(CDR)]', '19.7px "DejaVu Sans"'),
    capLine(681, '{b|FIGURE 8 |} The meridionally averaged (65\u201380\u00b0N) absolute mean bias {b|(A,B)} and mean bias {b|(C,D)} between data assimilation experiments (Ver1 represented by blue'),
    capLine(707, 'lines; Ver2 represented by red lines) and satellite observation (CS2SMOS for thickness and SSMIS NT for concentration) for sea ice thickness (m; {b|A,C}) and'),
    capLine(733, 'concentration (a fraction from 0 to 1; {b|B,D}) during DJF season over 2011\u20132019. The gray lines in left column represent the difference of absolute mean bias between'),
    capLine(759, 'Ver2 and Ver1.')
  ]
});
</script>
</body>
</html>
